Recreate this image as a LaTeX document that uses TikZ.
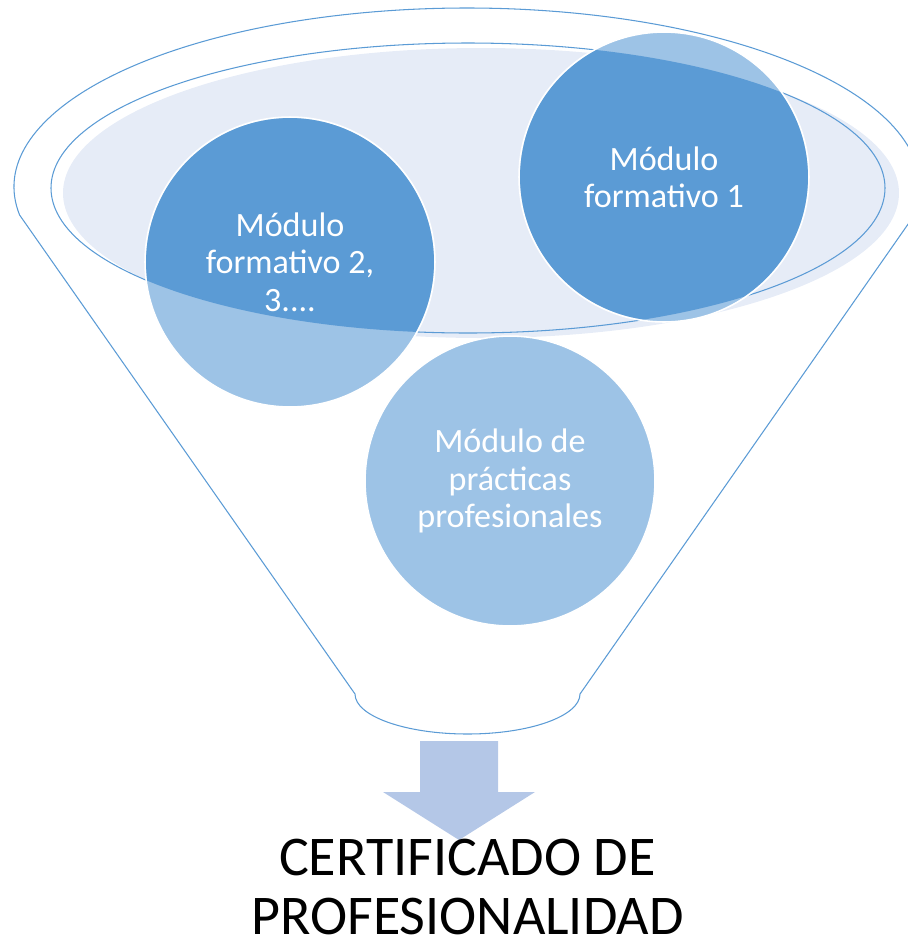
\documentclass[tikz,border=0pt]{standalone}
\usepackage{fontspec}
\setmainfont{Carlito}
\usepackage{xcolor}
\usepackage{tikz}

\definecolor{azulOscuro}{HTML}{5B9BD5}
\definecolor{azulClaro}{HTML}{9DC3E6}
\definecolor{elipseFondo}{HTML}{E6ECF7}
\definecolor{flechaAzul}{HTML}{B4C7E7}

\begin{document}
\begin{tikzpicture}[x=0.02cm, y=0.02cm,
        modulo/.style={circle, draw=white, line width=0.9pt, minimum size=5.8cm, inner sep=0pt,
            text=white, align=center, font=\fontsize{19.4}{21.3}\selectfont}]
        \clip (0, 0) rectangle (908, -941);

        \draw[azulOscuro, line width=0.6pt] (19.6, -215) 
            arc[start angle=189, end angle=-9, x radius=453, y radius=179]
            -- (580, -694)
            arc[start angle=0, end angle=-180, x radius=112.5, y radius=40]
            -- cycle;

        \fill[elipseFondo] (481, -193) ellipse[x radius=418, y radius=145];
        \draw[azulOscuro, line width=0.6pt] (468, -188) ellipse[x radius=417, y radius=145];

        \fill[azulClaro] (664, -177) circle[radius=145];
        \fill[azulClaro] (290, -262) circle[radius=145];
        \fill[azulClaro] (510, -481) circle[radius=145];

        \begin{scope}
            \clip (468, -188) ellipse[x radius=417, y radius=145];
            \fill[azulOscuro] (664, -177) circle[radius=144];
            \fill[azulOscuro] (290, -262) circle[radius=144];
        \end{scope}

        \node[modulo] (mf1) at (664, -177) {Módulo\\formativo 1};
        \node[modulo] (mf2) at (290, -262) {Módulo\\formativo 2,\\3....};
        \node[modulo] (mpp) at (510, -481) {Módulo de\\prácticas\\profesionales};

        \fill[flechaAzul] (420, -741) -- (498, -741) -- (498, -792) -- (535, -792) 
            -- (459, -840) -- (383, -792) -- (420, -792) -- cycle;

        \node[font=\fontsize{31.9}{33.4}\selectfont, align=center, anchor=north, inner sep=0pt] (cert)
            at (467.5, -839) {CERTIFICADO DE\\PROFESIONALIDAD};
    \end{tikzpicture}
\end{document}
